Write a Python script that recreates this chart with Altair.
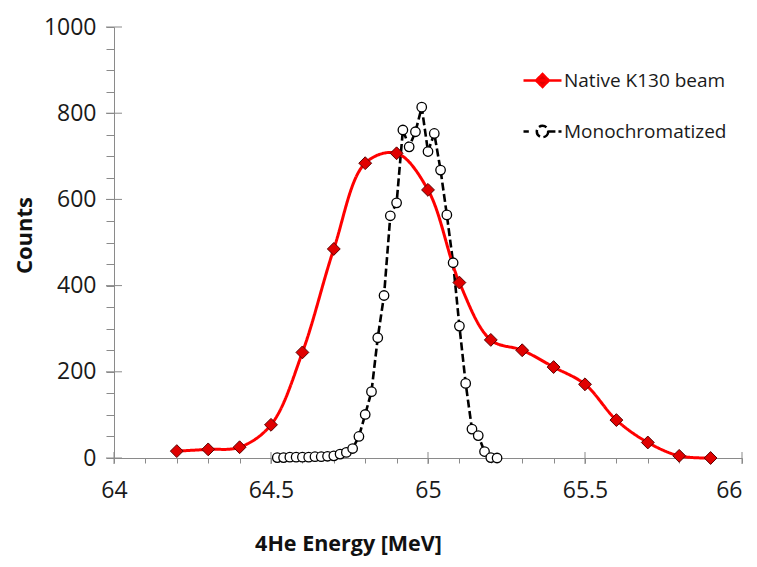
import altair as alt
import pandas as pd

FONT = "Open Sans"
S1 = "Native K130 beam"
S2 = "Monochromatized"

# Native beam (red diamonds, smoothed line)
native_energy = [64.2, 64.3, 64.4, 64.5, 64.6, 64.7, 64.8, 64.9, 65.0,
                 65.1, 65.2, 65.3, 65.4, 65.5, 65.6, 65.7, 65.8, 65.9]
native_counts = [16, 20, 25, 77, 245, 485, 684, 707, 622,
                 407, 274, 250, 211, 171, 88, 36, 5, 0]

# Monochromatized beam (open circles, dashed line)
mono_energy = [64.52, 64.54, 64.56, 64.58, 64.60, 64.62, 64.64, 64.66, 64.68,
               64.70, 64.72, 64.74, 64.76, 64.78, 64.80, 64.82, 64.84, 64.86,
               64.88, 64.90, 64.92, 64.94, 64.96, 64.98, 65.00, 65.02, 65.04,
               65.06, 65.08, 65.10, 65.12, 65.14, 65.16, 65.18, 65.20, 65.22]
mono_counts = [1, 1, 2, 2, 2, 2, 3, 3, 4,
               5, 9, 13, 22, 50, 101, 154, 279, 377,
               562, 592, 761, 722, 757, 814, 711, 753, 668,
               564, 453, 306, 173, 67, 52, 15, 1, 0]

# Axis ticks
x_ticks = [64.0, 64.1, 64.2, 64.3, 64.4, 64.5, 64.6, 64.7, 64.8, 64.9, 65.0,
           65.1, 65.2, 65.3, 65.4, 65.5, 65.6, 65.7, 65.8, 65.9, 66.0]
x_major = [64.0, 64.5, 65.0, 65.5, 66.0]
y_ticks = [0, 50, 100, 150, 200, 250, 300, 350, 400, 450, 500,
           550, 600, 650, 700, 750, 800, 850, 900, 950, 1000]
y_major = [0, 200, 400, 600, 800, 1000]

W, H = 628, 431
AXIS_COLOR = "#8a8a8a"

native_df = pd.DataFrame({"E": native_energy, "C": native_counts, "series": S1})
mono_df = pd.DataFrame({"E": mono_energy, "C": mono_counts, "series": S2})
both_df = pd.concat([native_df, mono_df], ignore_index=True)

xscale = alt.Scale(domain=[64, 66], nice=False, zero=False)
yscale = alt.Scale(domain=[0, 1000], nice=False)

xaxis = alt.Axis(
    values=x_ticks, tickSize=5, tickColor=AXIS_COLOR, domainColor=AXIS_COLOR,
    grid=False, labelFlush=False, labelOverlap=False,
    labelExpr="abs(datum.value*2 - round(datum.value*2)) < 0.001 ? toString(round(datum.value*10)/10) : ''",
    labelAlign={"expr": "datum.value > 65.95 ? 'right' : 'center'"},
    labelFont=FONT, labelFontSize=23, labelColor="#1a1a1a", labelPadding=16,
    title="4He Energy [MeV]", titleFont=FONT, titleFontSize=21.5, titleFontWeight="bold",
    titleColor="#111", titleX=234, titleY=86, titleAlign="center", titleBaseline="middle",
)
yaxis = alt.Axis(
    values=y_ticks, tickSize=8, tickColor=AXIS_COLOR, domainColor=AXIS_COLOR,
    grid=False, labelOverlap=False, format="d",
    labelExpr="datum.value % 200 == 0 ? datum.label : ''",
    labelFont=FONT, labelFontSize=23, labelColor="#1a1a1a", labelPadding=10,
    title="Counts", titleFont=FONT, titleFontSize=22, titleFontWeight="bold",
    titleColor="#111", titleX=-90, titleY=208, titleAngle=-90,
    titleAlign="center", titleBaseline="middle",
)

X = alt.X("E:Q", scale=xscale, axis=xaxis)
Y = alt.Y("C:Q", scale=yscale, axis=yaxis)

# legend glyphs: line with marker
P1 = "M-1,0L1,0M0,-0.34L0.34,0L0,0.34L-0.34,0Z"
P2 = ("M-1,0L-0.72,0M0.3,0L0.68,0M0.84,0L1,0"
      "M0.3,0A0.3,0.3,0,1,1,-0.3,0A0.3,0.3,0,1,1,0.3,0Z")

legend = alt.Legend(
    title=None, orient="none", legendX=408, legendY=33, padding=0,
    symbolSize=1444, symbolStrokeWidth=2.5, symbolOpacity=1, rowPadding=19,
    labelFont=FONT, labelFontSize=19, labelColor="#1a1a1a", labelOffset=1,
    labelLimit=400,
)

color_scale = alt.Scale(domain=[S1, S2], range=["#ff0000", "#000000"])
dash_scale = alt.Scale(domain=[S1, S2], range=[[1, 0], [8, 3.5]])

# invisible layer only used to build the legend
legend_layer = alt.Chart(both_df).mark_point(size=1444, opacity=0, strokeWidth=2.5).encode(
    x=X, y=Y,
    fill=alt.Fill("series:N", scale=alt.Scale(domain=[S1, S2], range=["#e00000", "#ffffff"]), legend=legend),
    stroke=alt.Stroke("series:N", scale=alt.Scale(domain=[S1, S2], range=["#ff0000", "#000000"]), legend=legend),
    shape=alt.Shape("series:N", scale=alt.Scale(domain=[S1, S2], range=[P1, P2]), legend=legend),
)

mono_line = alt.Chart(mono_df).mark_line(strokeWidth=2.6).encode(
    x=X, y=Y,
    color=alt.Color("series:N", scale=color_scale, legend=None),
    strokeDash=alt.StrokeDash("series:N", scale=dash_scale, legend=None),
)

native_line = alt.Chart(native_df).mark_line(strokeWidth=3, interpolate="catmull-rom").encode(
    x=X, y=Y,
    color=alt.Color("series:N", scale=color_scale, legend=None),
    strokeDash=alt.StrokeDash("series:N", scale=dash_scale, legend=None),
)

mono_pts = alt.Chart(mono_df).mark_point(
    shape="circle", size=90, filled=True, fill="white", stroke="black",
    strokeWidth=1.3, opacity=1,
).encode(x=X, y=Y)

native_pts = alt.Chart(native_df).mark_point(
    shape="diamond", size=165, filled=True, fill="#e00000", stroke="#5a0000",
    strokeWidth=1, opacity=1,
).encode(x=X, y=Y)

y_cross = alt.Chart(pd.DataFrame({"v": y_major})).mark_tick(
    orient="horizontal", size=16, thickness=1, color=AXIS_COLOR, opacity=1,
).encode(y=alt.Y("v:Q", scale=yscale, axis=yaxis), x=alt.value(0))

x_cross = alt.Chart(pd.DataFrame({"v": x_major})).mark_tick(
    orient="vertical", size=12, thickness=1, color=AXIS_COLOR, opacity=1,
).encode(x=alt.X("v:Q", scale=xscale, axis=xaxis), y=alt.value(H))

chart = alt.layer(
    legend_layer, y_cross, x_cross, mono_line, native_line, mono_pts, native_pts
).properties(
    width=W, height=H,
    autosize=alt.AutoSizeParams(type="none"),
    padding={"left": 106, "top": 19, "right": 7, "bottom": 101},
    background="white",
).configure_view(stroke=None).configure_axis(labelOverlap=False)

chart.save("out.html", embed_options={"renderer": "svg", "actions": False})
